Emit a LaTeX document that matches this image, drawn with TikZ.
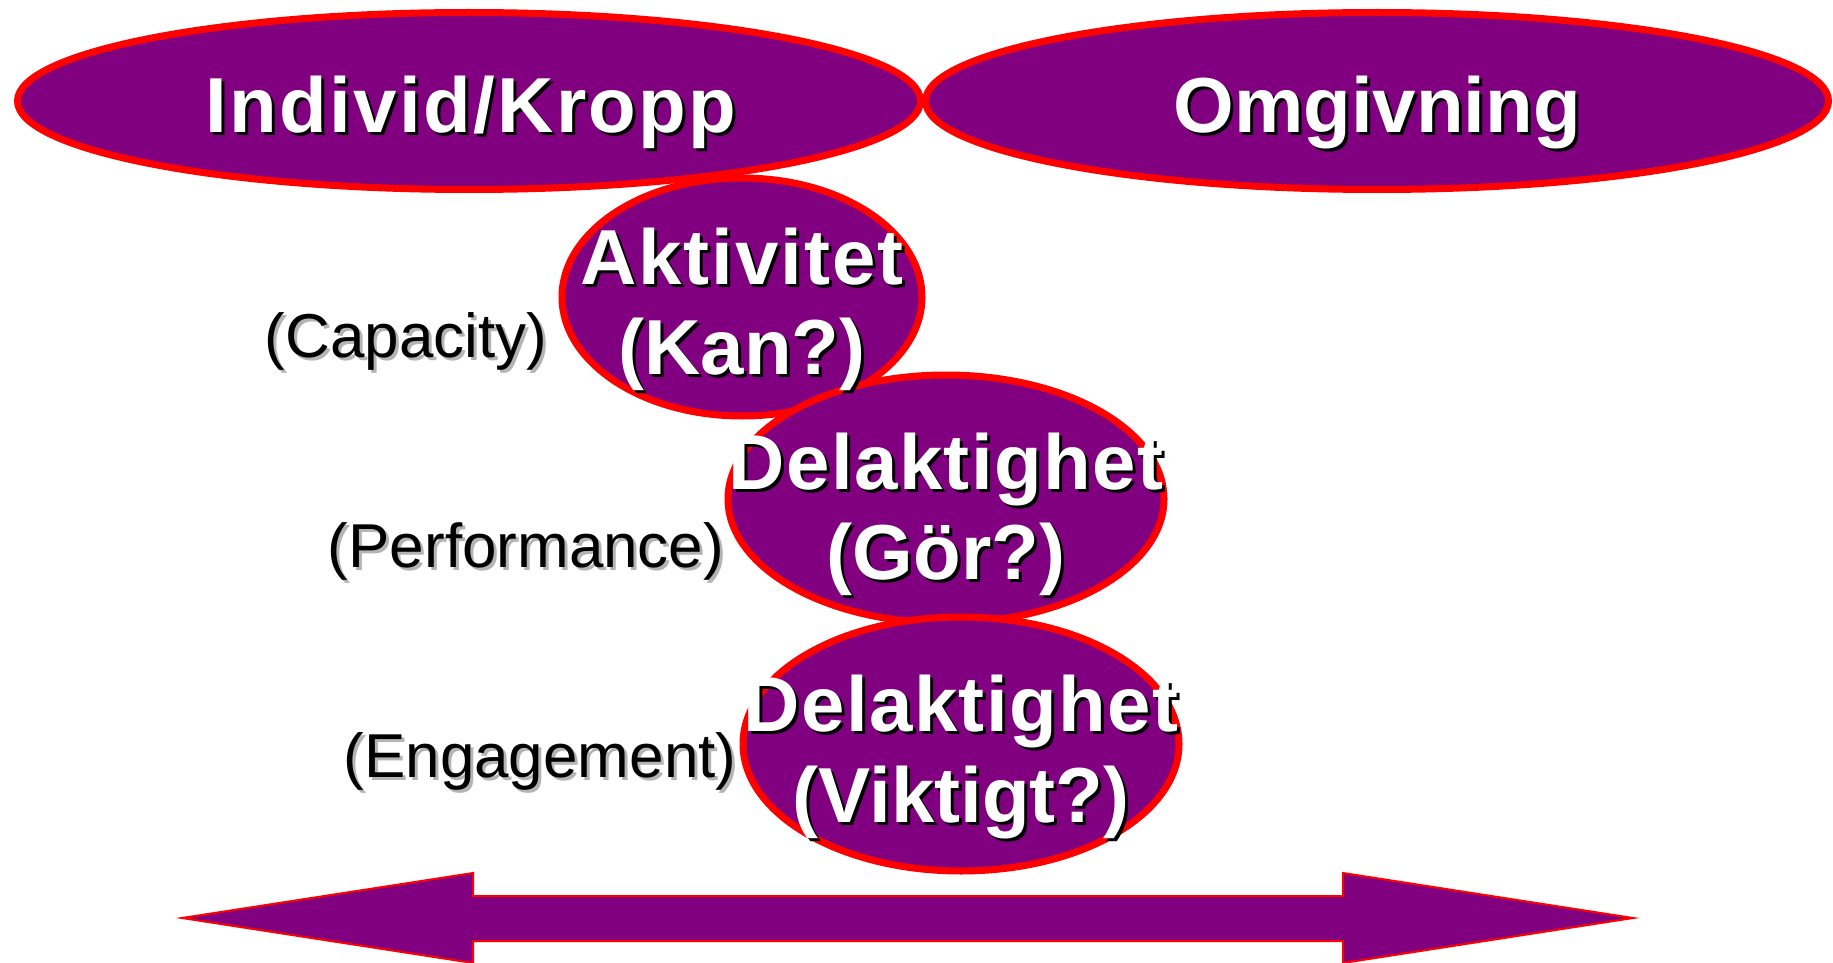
\documentclass[tikz,border=0pt]{standalone}
\usepackage{fontspec}
\setmainfont{Liberation Sans}
\usetikzlibrary{shapes.geometric}
\definecolor{vio}{HTML}{800080}
\definecolor{rd}{HTML}{FF0000}
\definecolor{shgray}{HTML}{B4B4B4}
\newcommand\shtext[2]{\leavevmode\rlap{\hspace{3pt}\raisebox{-3pt}{\color{#1}#2}}#2}
\begin{document}
\begin{tikzpicture}[x=1pt,y=-1pt,
  blob/.style={ellipse, fill=vio, draw=rd, line width=7pt, inner sep=0pt},
  big/.style={blob, minimum width=903pt, minimum height=177pt},
  intext/.style={anchor=base, text=white, inner sep=0pt, font=\fontsize{78}{90}\bfseries\selectfont},
  lab/.style={anchor=base, text=black, inner sep=0pt, font=\fontsize{62}{70}\selectfont}]
\useasboundingbox (0,0) rectangle (1833,963);
% ellipses
\node[blob, minimum width=360pt, minimum height=238pt] (akt) at (742,297) {};
\node[big] (ind) at (469,101) {};
\node[big] (omg) at (1377,101) {};
\node[blob, minimum width=436pt, minimum height=248pt] (gor) at (946,499) {};
\node[blob, minimum width=436pt, minimum height=254pt] (vik) at (961,744) {};
% arrow
\draw[fill=vio, draw=rd, line width=2pt, line join=miter]
  (182,918) -- (473,873) -- (473,896) -- (1343,896) -- (1343,873) -- (1633,918)
  -- (1343,963) -- (1343,941) -- (473,941) -- (473,963) -- cycle;
% texts
\node[intext] (indt) at (471,132) {\addfontfeature{LetterSpace=3}\shtext{black}{Individ/Kropp}};
\node[intext] (omgt) at (1377,132) {\shtext{black}{Omgivning}};
\node[intext] (akt1) at (742,284) {\addfontfeature{LetterSpace=2.6}\shtext{black}{Aktivitet}};
\node[intext] (akt2) at (742,374) {\shtext{black}{(Kan?)}};
\node[intext] (gor1) at (946,489) {\addfontfeature{LetterSpace=1.8}\shtext{black}{Delaktighet}};
\node[intext] (gor2) at (946,579) {\shtext{black}{(Gör?)}};
\node[intext] (vik1) at (961,731) {\addfontfeature{LetterSpace=1.8}\shtext{black}{Delaktighet}};
\node[intext] (vik2) at (961,822) {\shtext{black}{(Viktigt?)}};
% labels
\node[lab] (cap) at (406,357) {\shtext{shgray}{(Capacity)}};
\node[lab] (perf) at (526,567) {\shtext{shgray}{(Performance)}};
\node[lab] (eng) at (540,777) {\shtext{shgray}{(Engagement)}};
\end{tikzpicture}
\end{document}
